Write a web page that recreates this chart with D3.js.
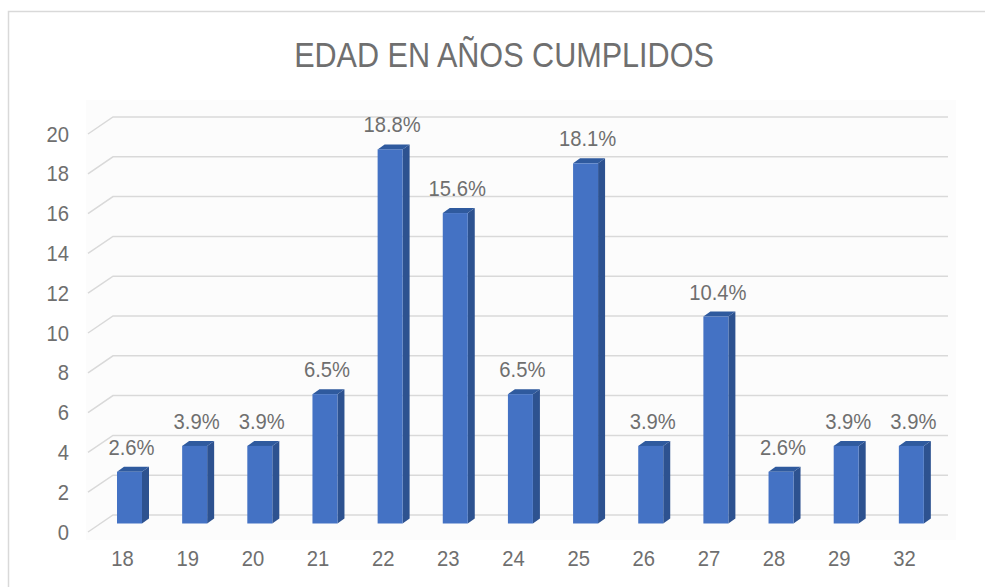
<!DOCTYPE html>
<html>
<head>
<meta charset="utf-8">
<script src="https://cdn.jsdelivr.net/npm/d3@7"></script>
<style>
  body { margin: 0; background: #fff; }
  svg text { font-family: "Liberation Sans", Arial, sans-serif; fill: #6f6f6f; }
</style>
</head>
<body>
<svg id="chart" width="985" height="587"></svg>
<script>
const ages = ["18", "19", "20", "21", "22", "23", "24", "25", "26", "27", "28", "29", "32"];
const percents = [2.6, 3.9, 3.9, 6.5, 18.8, 15.6, 6.5, 18.1, 3.9, 10.4, 2.6, 3.9, 3.9];
const yTicks = [0, 2, 4, 6, 8, 10, 12, 14, 16, 18, 20];
const chartTitle = "EDAD EN AÑOS CUMPLIDOS";

const svg = d3.select("#chart");

// depth of the 3d floor (front -> back)
const depthX = 25, depthY = -17;
// bars sit halfway in
const barDx = 7, barDy = -5;

const x = d3.scaleBand().domain(ages).range([90, 937]);
const y = d3.scaleLinear().domain([0, 20]).range([532, 134]);

// outer frame
svg.append("rect")
    .attr("x", 8.5).attr("y", 11.5)
    .attr("width", 1000).attr("height", 600)
    .attr("fill", "#fff")
    .attr("stroke", "#d9d9d9")
    .attr("stroke-width", 1.5);

// faint wall
svg.append("rect")
    .attr("x", 86).attr("y", 100)
    .attr("width", 870).attr("height", 440)
    .attr("fill", "#fcfcfc");

svg.append("text")
    .attr("transform", "translate(504,67) scale(0.85,1)")
    .attr("text-anchor", "middle")
    .style("font-size", "36px")
    .text(chartTitle);

// gridlines: short diagonal on the side wall, then along the back wall
svg.append("g").selectAll("path")
    .data(yTicks)
    .join("path")
    .attr("fill", "none")
    .attr("stroke", "#d9d9d9")
    .attr("stroke-width", 1.5)
    .attr("d", d => {
        const y0 = y(d);
        return "M" + (x.range()[0] - 2) + "," + y0 +
               "L" + (x.range()[0] - 2 + depthX) + "," + (y0 + depthY) +
               "L948," + (y0 + depthY);
    });

// y labels
svg.append("g")
    .attr("transform", "translate(69,0)")
    .call(d3.axisLeft(y).tickValues(yTicks).tickSize(0).tickPadding(0))
    .call(g => g.select(".domain").remove())
    .selectAll("text")
    .style("font-size", "22px")
    .style("font-family", null)
    .attr("fill", "#6f6f6f")
    .attr("transform", "scale(0.92,1)");

// x labels
svg.append("g")
    .attr("transform", "translate(0,548)")
    .call(d3.axisBottom(x).tickSize(0).tickPadding(2))
    .call(g => g.select(".domain").remove())
    .selectAll("text")
    .style("font-size", "22px")
    .style("font-family", null)
    .attr("fill", "#6f6f6f")
    .attr("transform", "scale(0.92,1)");

// bars
const zeroY = y(0) + depthY / 2;
const offX = 27, barW = 25;
const bars = svg.append("g").selectAll("g")
    .data(ages.map((a, i) => ({age: a, v: percents[i]})))
    .join("g");

bars.append("path")  // side
    .attr("fill", "#2d5290")
    .attr("d", d => {
        const x1 = x(d.age) + offX + barW, yt = y(d.v) + depthY / 2;
        return "M" + x1 + "," + zeroY + "L" + x1 + "," + yt +
               "L" + (x1 + barDx) + "," + (yt + barDy) +
               "L" + (x1 + barDx) + "," + (zeroY + barDy) + "Z";
    });

bars.append("path")  // top
    .attr("fill", "#2f5a9e")
    .attr("d", d => {
        const x0 = x(d.age) + offX, yt = y(d.v) + depthY / 2;
        return "M" + x0 + "," + yt + "L" + (x0 + barW) + "," + yt +
               "L" + (x0 + barW + barDx) + "," + (yt + barDy) +
               "L" + (x0 + barDx) + "," + (yt + barDy) + "Z";
    });

bars.append("rect")  // front
    .attr("fill", "#4472c4")
    .attr("x", d => x(d.age) + offX)
    .attr("y", d => y(d.v) + depthY / 2)
    .attr("width", barW)
    .attr("height", d => zeroY - (y(d.v) + depthY / 2));

// data labels
bars.append("text")
    .attr("transform", d => "translate(" + (x(d.age) + offX + barW / 2 + 2) + "," +
        (y(d.v) + depthY / 2 + barDy - 12) + ") scale(0.92,1)")
    .attr("text-anchor", "middle")
    .style("font-size", "22px")
    .text(d => d.v.toFixed(1) + "%");
</script>
</body>
</html>
